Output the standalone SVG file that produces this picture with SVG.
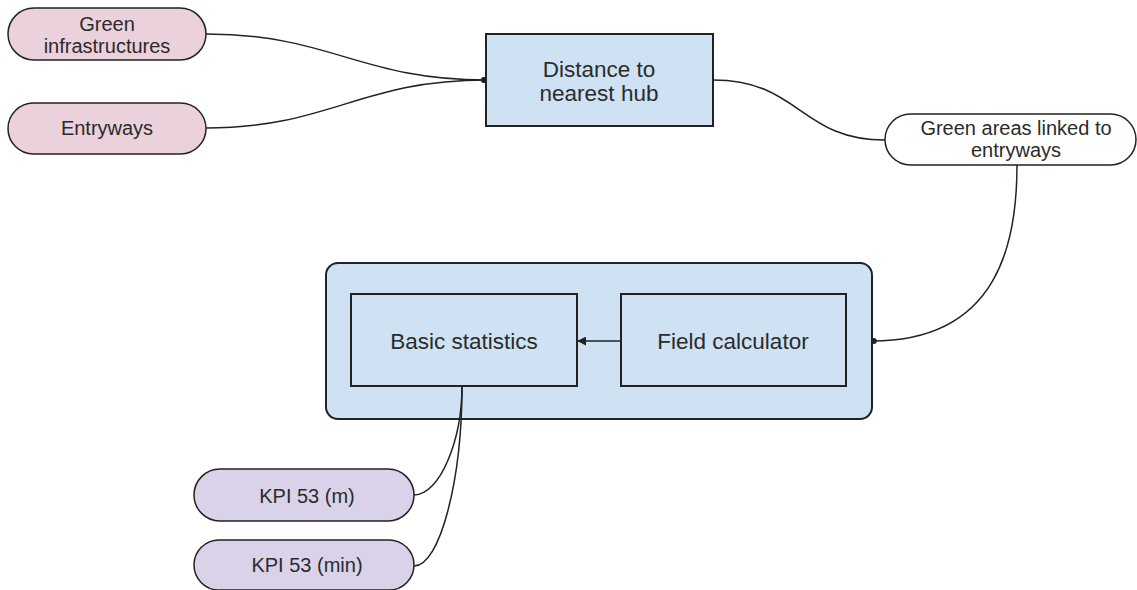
<svg xmlns="http://www.w3.org/2000/svg" width="1137" height="590" viewBox="0 0 1137 590">
<defs>
<style>
text{font-family:"Liberation Sans",Arial,sans-serif;font-size:20px;fill:#2b2b2b;text-anchor:middle}
text.big{font-size:22.5px}
.pink{fill:#ead1dc;stroke:#222;stroke-width:1.5}
.blue{fill:#cfe2f3;stroke:#222;stroke-width:2}
.white{fill:#fff;stroke:#222;stroke-width:1.5}
.purple{fill:#d9d2e9;stroke:#222;stroke-width:1.5}
.c{fill:none;stroke:#222;stroke-width:1.5}
</style>
<marker id="dot" viewBox="0 0 10 10" refX="8" refY="5" markerWidth="6" markerHeight="6" markerUnits="userSpaceOnUse" orient="auto"><circle cx="5" cy="5" r="5" fill="#222"/></marker>
<marker id="arr" viewBox="0 0 10 10" refX="9" refY="5" markerWidth="9" markerHeight="9" markerUnits="userSpaceOnUse" orient="auto"><path d="M0,0 L10,5 L0,10 z" fill="#222"/></marker>
</defs>
<rect width="1137" height="590" fill="#fff"/>
<g id="container"><rect class="blue" x="326" y="263" width="546" height="156" rx="12"/></g>
<g id="connectors">
<path class="c" d="M206,34 C330,34 360,80 486,80" marker-end="url(#dot)"/>
<path class="c" d="M206,128 C330,128 360,80 486,80" marker-end="url(#dot)"/>
<path class="c" d="M713,80 C800,80 800,140 885,140"/>
<path class="c" d="M1017,165 C1017,240 1000,341 872,341" marker-end="url(#dot)"/>
<path class="c" d="M621,341 L578,341" marker-end="url(#arr)"/>
<path class="c" d="M462,386 C462,440 440,495 414,495"/>
<path class="c" d="M462,386 C462,480 440,566 414,566"/>
</g>
<g id="green-infra"><rect class="pink" x="8" y="8" width="198" height="52" rx="26"/><text x="107" y="31">Green</text><text x="107" y="53">infrastructures</text></g>
<g id="entryways"><rect class="pink" x="8" y="103" width="198" height="51" rx="25.5"/><text x="107" y="135">Entryways</text></g>
<g id="distance"><rect class="blue" x="486" y="34" width="227" height="92"/><text class="big" x="599" y="77">Distance to</text><text class="big" x="599" y="101">nearest hub</text></g>
<g id="green-areas"><rect class="white" x="885" y="114" width="251" height="51" rx="25.5"/><text x="1016" y="135">Green areas linked to</text><text x="1016" y="157">entryways</text></g>
<g id="basic-stats"><rect class="blue" x="351" y="294" width="226" height="92"/><text class="big" x="464" y="349">Basic statistics</text></g>
<g id="field-calc"><rect class="blue" x="621" y="294" width="225" height="92"/><text class="big" x="733" y="349">Field calculator</text></g>
<g id="kpi-m"><rect class="purple" x="194" y="469" width="220" height="52" rx="26"/><text x="307" y="503">KPI 53 (m)</text></g>
<g id="kpi-min"><rect class="purple" x="194" y="540" width="220" height="50" rx="25"/><text x="307" y="572">KPI 53 (min)</text></g>
</svg>
